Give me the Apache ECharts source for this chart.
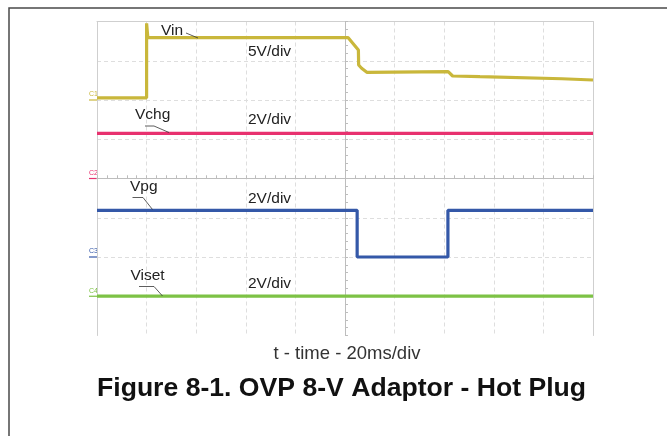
<!DOCTYPE html>
<html>
<head>
<meta charset="utf-8">
<script src="https://cdn.jsdelivr.net/npm/echarts@6/dist/echarts.min.js"></script>
<style>
  html, body { margin: 0; padding: 0; background: #fff; }
  #chart { width: 667px; height: 436px; }
</style>
</head>
<body>
<div id="chart"></div>
<script>
// 时间轴：20ms/div，触发点在中间
const timeTicks = [-100, -80, -60, -40, -20, 0, 20, 40, 60, 80, 100];

// 各通道：名称、每格电压、零点所在格（相对中心）
const channelNames = ['Vin', 'Vchg', 'Vpg', 'Viset'];
const channelLabels = ['C1', 'C2', 'C3', 'C4'];
const voltsPerDiv = [5, 2, 2, 2];
const groundDiv = [2, 0, -2, -3];
const channelColors = ['#c9b73b', '#e8316f', '#3458a8', '#7dc245'];

// 波形数据（ms, V）
const vinTime = [-100, -80, -80, -79.5, 1.3, 5.4, 5.5, 6.7, 8.8, 41.6, 43.4, 54.4, 87.5, 100];
const vinVolts = [0.28, 0.28, 9.77, 7.94, 7.94, 6.37, 4.46, 4.04, 3.53, 3.61, 3.06, 2.97, 2.71, 2.55];

const vchgTime = [-100, 100];
const vchgVolts = [2.30, 2.30];

const vpgTime = [-100, 4.9, 4.9, 41.5, 41.5, 100];
const vpgVolts = [2.38, 2.38, 0, 0, 2.38, 2.38];

const visetTime = [-100, 100];
const visetVolts = [0.01, 0.01];

const traceTimes = [vinTime, vchgTime, vpgTime, visetTime];
const traceVolts = [vinVolts, vchgVolts, vpgVolts, visetVolts];

const chart = echarts.init(document.getElementById('chart'));

const gridColor = '#dedede';
const centerColor = '#bdbdbd';
const borderColor = '#cfcfcf';

// 中心十字线（两侧都有小刻度，用两根轴叠加）
function centerXAxis(inside, withSplit) {
    return {
        type: 'value', min: timeTicks[0], max: timeTicks[timeTicks.length - 1], interval: 20,
        axisLine: { show: true, onZero: true, onZeroAxisIndex: 0, lineStyle: { color: centerColor, width: 1 } },
        axisTick: { show: true, inside: inside, length: 3, lineStyle: { color: centerColor } },
        minorTick: { show: true, splitNumber: 5, length: 3, lineStyle: { color: centerColor } },
        axisLabel: { show: false },
        splitLine: { show: withSplit, showMinLine: false, showMaxLine: false, lineStyle: { color: gridColor, type: [4, 3] } }
    };
}
function centerYAxis(inside, withSplit) {
    return {
        type: 'value', min: -4, max: 4, interval: 1,
        axisLine: { show: true, onZero: true, onZeroAxisIndex: 0, lineStyle: { color: centerColor, width: 1 } },
        axisTick: { show: true, inside: inside, length: 3, lineStyle: { color: centerColor } },
        minorTick: { show: true, splitNumber: 5, length: 3, lineStyle: { color: centerColor } },
        axisLabel: { show: false },
        splitLine: { show: withSplit, showMinLine: false, showMaxLine: false, lineStyle: { color: gridColor, type: [4, 3] } }
    };
}
function borderAxis(pos, min, max) {
    return {
        type: 'value', min: min, max: max, position: pos,
        axisLine: { show: true, onZero: false, lineStyle: { color: borderColor, width: 1 } },
        axisTick: { show: false }, axisLabel: { show: false }, splitLine: { show: false }
    };
}

const xAxes = [centerXAxis(true, true), centerXAxis(false, false), borderAxis('top', -100, 100)];
const yAxes = [centerYAxis(true, true), centerYAxis(false, false),
    borderAxis('left', -4, 4), borderAxis('right', -4, 4)];

// 每个通道一根隐藏的电压轴，零点落在对应格上
channelNames.forEach((name, i) => {
    yAxes.push({
        type: 'value', show: false,
        min: -(4 + groundDiv[i]) * voltsPerDiv[i],
        max: (4 - groundDiv[i]) * voltsPerDiv[i],
        splitLine: { show: false }
    });
});

const series = channelNames.map((name, i) => ({
    name: name,
    type: 'line',
    xAxisIndex: 0,
    yAxisIndex: 4 + i,
    showSymbol: false,
    silent: true,
    animation: false,
    lineStyle: { color: channelColors[i], width: 3.2 },
    data: traceTimes[i].map((t, k) => [t, traceVolts[i][k]]),
    z: 10
}));

chart.setOption({
    animation: false,
    grid: { left: 97, top: 21.5, width: 496, height: 314 },
    xAxis: xAxes,
    yAxis: yAxes,
    series: series
});

// 注释文字和引线
const labelFont = { fontSize: 15.5, fontFamily: 'Liberation Sans, Arial, sans-serif', fill: '#222', verticalAlign: 'middle' };
function txt(text, x, y, extra) {
    return { type: 'text', x: x, y: y, silent: true, z: 50, style: Object.assign({ text: text }, labelFont, extra || {}) };
}
function leader(points) {
    return { type: 'polyline', silent: true, z: 50, shape: { points: points }, style: { stroke: '#333', lineWidth: 0.8, fill: null } };
}

const graphics = [
    // 外框
    { type: 'polyline', silent: true, shape: { points: [[9, 436], [9, 8], [667, 8]] }, style: { stroke: '#4a4a4a', lineWidth: 1.5, fill: null } },
    txt('Vin', 161, 31),
    leader([[186, 33], [198, 38]]),
    txt('5V/div', 248, 51.5),
    txt('Vchg', 135, 115),
    leader([[145, 126], [154, 126], [169, 132.5]]),
    txt('2V/div', 248, 119.5),
    txt('Vpg', 130, 187),
    leader([[132.5, 197.5], [143, 197.5], [152.5, 209.5]]),
    txt('2V/div', 248, 198.5),
    txt('Viset', 130.5, 275.5),
    leader([[139, 286.5], [154, 286.5], [162.5, 296]]),
    txt('2V/div', 248, 284),
    txt('t - time - 20ms/div', 347, 354, { fontSize: 18.5, align: 'center', fill: '#333' }),
    txt('Figure 8-1. OVP 8-V Adaptor - Hot Plug', 97, 388.5, { fontSize: 26.6, fontWeight: 'bold', fill: '#111' })
];

// 通道零点标记（C1..C4），位置取自各通道电压轴的 0V
channelLabels.forEach((lab, i) => {
    const y = chart.convertToPixel({ yAxisIndex: 4 + i }, 0);
    graphics.push({
        type: 'line', silent: true,
        shape: { x1: 89, y1: y, x2: 97, y2: y },
        style: { stroke: channelColors[i], lineWidth: 1.2 }
    });
    graphics.push({
        type: 'text', silent: true, x: 89, y: y - 2,
        style: { text: lab, fontSize: 7, fontFamily: 'Liberation Sans, Arial, sans-serif', fill: channelColors[i], verticalAlign: 'bottom' }
    });
});

chart.setOption({ graphic: graphics });

window.addEventListener('resize', function() {
    chart.resize();
});
</script>
</body>
</html>
